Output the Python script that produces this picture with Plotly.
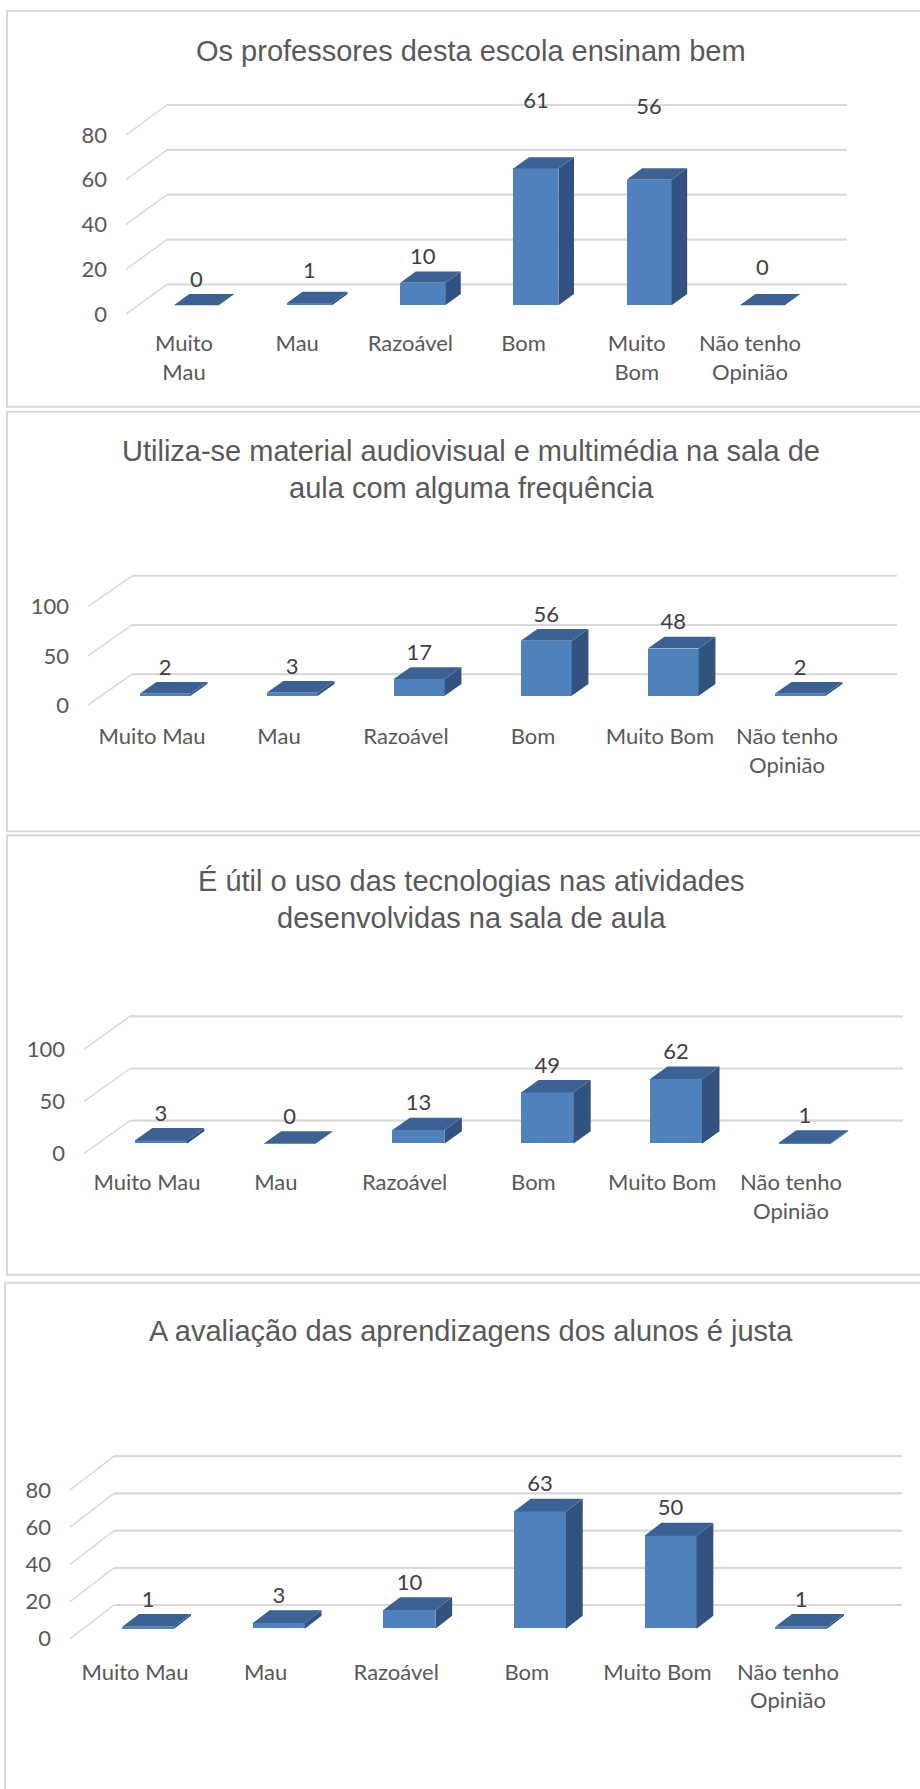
import plotly.graph_objects as go

# ---------------- data ----------------
titles = [
    "Os professores desta escola ensinam bem",
    "Utiliza-se material audiovisual e multimédia na sala de<br>aula com alguma frequência",
    "É útil o uso das tecnologias nas atividades<br>desenvolvidas na sala de aula",
    "A avaliação das aprendizagens dos alunos é justa",
]
categories_p1 = ["Muito<br>Mau", "Mau", "Razoável", "Bom", "Muito<br>Bom", "Não tenho<br>Opinião"]
categories = ["Muito Mau", "Mau", "Razoável", "Bom", "Muito Bom", "Não tenho<br>Opinião"]

values_p1 = [0, 1, 10, 61, 56, 0]
values_p2 = [2, 3, 17, 56, 48, 2]
values_p3 = [3, 0, 13, 49, 62, 1]
values_p4 = [1, 3, 10, 63, 50, 1]

yticks_p1 = [0, 20, 40, 60, 80]
yticks_p2 = [0, 50, 100]
yticks_p3 = [0, 50, 100]
yticks_p4 = [0, 20, 40, 60, 80]

# ---------------- layout / style (pixels) ----------------
W, H = 920, 1789
panels = [
    dict(cats=categories_p1, vals=values_p1, ticks=yticks_p1, title_ys=[51],
         axis_x=126, y0=316, k=2.255, cat0=184, step=113.2, DX=41, DY=-30,
         bar_w=45, grid_right=847, box=(7, 11, 940, 409), xstand=11,
         nudge=[0, 6, 0, 42, 47, 12]),
    dict(cats=categories, vals=values_p2, ticks=yticks_p2, title_ys=[454, 491],
         axis_x=88, y0=709, k=0.99, cat0=152, step=127.0, DX=44, DY=-31,
         bar_w=51, grid_right=897, box=(7, 414, 940, 836), xstand=13,
         nudge=[0] * 6),
    dict(cats=categories, vals=values_p3, ticks=yticks_p3, title_ys=[886, 923],
         axis_x=84, y0=1160, k=1.05, cat0=147, step=128.8, DX=46, DY=-33,
         bar_w=52, grid_right=903, box=(7, 840, 940, 1282), xstand=11,
         nudge=[0] * 6),
    dict(cats=categories, vals=values_p4, ticks=yticks_p4, title_ys=[1338],
         axis_x=70, y0=1648, k=1.87, cat0=135, step=130.6, DX=44, DY=-34,
         bar_w=52, grid_right=902, box=(5, 1290, 940, 1820), xstand=15,
         nudge=[0] * 6),
]

D_FRONT, D_BACK = 0.30, 0.68
FRONT = "#4F81BD"
TOP = "#3C6294"
SIDE = "#325280"
GRID = "#D9D9D9"
TXT = "#595959"
LBL = "#404040"
TICKFONT = dict(family="Lato, Carlito, sans-serif", size=22, color=TXT)
LBLFONT = dict(family="Lato, Carlito, sans-serif", size=22, color=LBL)
TITLEFONT = dict(family="Liberation Sans, Arial, sans-serif", size=29, color=TXT)

fig = go.Figure()
shapes = []
annotations = []

for n, P in enumerate(panels, start=1):
    xa = "x" if n == 1 else f"x{n}"
    ya = "y" if n == 1 else f"y{n}"
    step, k = P["step"], P["k"]

    def px2x(px, P=P):
        return (px - P["cat0"]) / P["step"]

    x_front = px2x(P["axis_x"])
    x_right = px2x(W)
    DXu = P["DX"] / step
    DYu = -P["DY"] / k

    top_px = P["y0"] + P["DY"] - k * max(P["ticks"]) - 8
    bot_px = P["y0"] + 3
    y_lo = -(bot_px - P["y0"]) / k
    y_hi = (P["y0"] - top_px) / k

    # back wall gridlines and side wall diagonals
    for v in P["ticks"]:
        shapes.append(dict(type="line", xref=xa, yref=ya, layer="below",
                           x0=x_front + DXu, y0=v + DYu, x1=px2x(P["grid_right"]), y1=v + DYu,
                           line=dict(color=GRID, width=2.2)))
        shapes.append(dict(type="line", xref=xa, yref=ya, layer="below",
                           x0=x_front, y0=v, x1=x_front + DXu, y1=v + DYu,
                           line=dict(color=GRID, width=1.5)))

    xs = list(range(len(P["vals"])))
    bw = P["bar_w"] / step
    fdx, fdy = D_FRONT * DXu, D_FRONT * DYu
    ddx, ddy = (D_BACK - D_FRONT) * DXu, (D_BACK - D_FRONT) * DYu

    # front faces
    fig.add_trace(go.Bar(x=[x + fdx for x in xs], y=P["vals"], base=fdy, width=bw,
                         marker=dict(color=FRONT, line=dict(width=0)),
                         xaxis=xa, yaxis=ya, showlegend=False, hoverinfo="skip"))

    # top and side faces
    for x, v in zip(xs, P["vals"]):
        xl = x + fdx - bw / 2
        xr = x + fdx + bw / 2
        vt = v + fdy
        fig.add_trace(go.Scatter(
            x=[xr, xr, xr + ddx, xr + ddx, xr], y=[fdy, vt, vt + ddy, fdy + ddy, fdy],
            fill="toself", fillcolor=SIDE, mode="lines", line=dict(width=0, color=SIDE),
            xaxis=xa, yaxis=ya, showlegend=False, hoverinfo="skip"))
        fig.add_trace(go.Scatter(
            x=[xl, xr, xr + ddx, xl + ddx, xl], y=[vt, vt, vt + ddy, vt + ddy, vt],
            fill="toself", fillcolor=TOP, mode="lines", line=dict(width=0, color=TOP),
            xaxis=xa, yaxis=ya, showlegend=False, hoverinfo="skip"))

    # data labels
    fig.add_trace(go.Scatter(
        x=[x + fdx for x in xs],
        y=[v + fdy + ddy + (13 + nd) / k for v, nd in zip(P["vals"], P["nudge"])],
        text=[str(v) for v in P["vals"]], mode="text", textposition="middle center",
        textfont=LBLFONT, cliponaxis=False, xaxis=xa, yaxis=ya,
        showlegend=False, hoverinfo="skip"))

    fig.update_layout(**{
        ("xaxis" if n == 1 else f"xaxis{n}"): dict(
            domain=[P["axis_x"] / W, 1.0], range=[x_front, x_right], anchor=ya,
            tickmode="array", tickvals=xs, ticktext=P["cats"], tickangle=0,
            showgrid=False, zeroline=False, showline=False, ticks="",
            tickfont=TICKFONT, ticklabelstandoff=P["xstand"], fixedrange=True),
        ("yaxis" if n == 1 else f"yaxis{n}"): dict(
            domain=[1 - bot_px / H, 1 - top_px / H], range=[y_lo, y_hi], anchor=xa,
            tickmode="array", tickvals=P["ticks"], showgrid=False, zeroline=False,
            showline=False, ticks="", tickfont=TICKFONT, ticklabelstandoff=18,
            fixedrange=True),
    })

    bx0, by0, bx1, by1 = P["box"]
    shapes.append(dict(type="rect", xref="paper", yref="paper", layer="below",
                       x0=bx0 / W, x1=bx1 / W, y0=1 - by1 / H, y1=1 - by0 / H,
                       line=dict(color=GRID, width=2), fillcolor="rgba(0,0,0,0)"))
    for line_text, ty in zip(titles[n - 1].split("<br>"), P["title_ys"]):
        annotations.append(dict(text=line_text, xref="paper", yref="paper",
                                x=471 / W, y=1 - ty / H, xanchor="center",
                                yanchor="middle", showarrow=False, font=TITLEFONT))

fig.update_layout(width=W, height=H, autosize=False,
                  margin=dict(l=0, r=0, t=0, b=0, pad=0),
                  paper_bgcolor="white", plot_bgcolor="rgba(0,0,0,0)",
                  shapes=shapes, annotations=annotations, bargap=0,
                  showlegend=False)

fig.write_html("out.html", include_plotlyjs=True,
               config={"displayModeBar": False},
               post_script="document.body.style.margin='0';")
